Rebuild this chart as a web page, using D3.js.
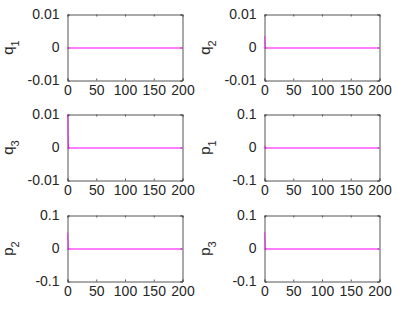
<!DOCTYPE html>
<meta charset="utf-8">
<script src="https://d3js.org/d3.v7.min.js"></script>
<style>
  body { margin: 0; background: #fff; }
  text { font-family: "Liberation Sans", Arial, sans-serif; fill: #262626; }
</style>
<div id="my_dataviz"></div>
<script>

// time samples and series values
var time = [0, 1, 2, 200];
var q1 = [0, 0, 0, 0];
var q2 = [0.0036, 0.0003, 0, 0];
var q3 = [0.012, 0.001, 0, 0];
var p1 = [0.007, 0.0005, 0, 0];
var p2 = [0.05, 0.003, 0, 0];
var p3 = [0.052, 0.003, 0, 0];

var xTicks = [0, 50, 100, 150, 200];
var qTicks = [-0.01, 0, 0.01];
var pTicks = [-0.1, 0, 0.1];

var names = [["q", "1"], ["q", "2"], ["q", "3"], ["p", "1"], ["p", "2"], ["p", "3"]];
var series = [q1, q2, q3, p1, p2, p3];
var yTickSets = [qTicks, qTicks, qTicks, pTicks, pTicks, pTicks];

var W = 405, H = 311;
var colX = [67.5, 264.5];
var rowY = [14.5, 114.5, 215.5];
var pw = 115, ph = 66;

var svg = d3.select("#my_dataviz")
  .append("svg")
    .attr("width", W)
    .attr("height", H);

series.forEach(function(vals, i) {
  var ticks = yTickSets[i];
  var g = svg.append("g")
    .attr("transform", "translate(" + colX[i % 2] + "," + rowY[Math.floor(i / 2)] + ")");

  var x = d3.scaleLinear().domain([0, 200]).range([0, pw]);
  var y = d3.scaleLinear().domain([ticks[0], ticks[2]]).range([ph, 0]);

  g.append("clipPath").attr("id", "clip" + i)
    .append("rect").attr("y", -0.5).attr("width", pw).attr("height", ph);

  // axes with inward ticks
  var fmt = function(d) { return d === 0 ? "0" : String(d); };
  var bottom = g.append("g").attr("transform", "translate(0," + ph + ")")
    .call(d3.axisBottom(x).tickValues(xTicks).tickSize(-2).tickPadding(5).tickFormat(fmt));
  var top = g.append("g")
    .call(d3.axisTop(x).tickValues(xTicks).tickSize(-2).tickFormat(""));
  var left = g.append("g")
    .call(d3.axisLeft(y).tickValues(ticks).tickSize(-2).tickPadding(8).tickFormat(fmt));
  var right = g.append("g").attr("transform", "translate(" + pw + ",0)")
    .call(d3.axisRight(y).tickValues(ticks).tickSize(-2).tickFormat(""));

  [bottom, top, left, right].forEach(function(a) {
    a.select(".domain").attr("stroke", "#555");
    a.selectAll(".tick line").attr("stroke", "#555");
    a.selectAll("text").style("font-size", "14px").attr("fill", "#262626");
  });

  // the curve, on top of the axes (half-pixel shift so it renders soft like the original)
  var line = d3.line()
    .x(function(d, k) { return x(time[k]); })
    .y(function(d) { return y(d); });
  g.append("g").attr("transform", "translate(0,0.5)")
    .append("path")
    .datum(vals)
    .attr("clip-path", "url(#clip" + i + ")")
    .attr("d", line)
    .attr("fill", "none")
    .attr("stroke", "#ff00ff")
    .attr("stroke-width", 1.2);

  // y label with subscript
  var lab = g.append("text")
    .attr("transform", "translate(" + (-55) + "," + (ph / 2) + ") rotate(-90)")
    .attr("text-anchor", "middle")
    .style("font-size", "15px");
  lab.append("tspan").text(names[i][0]);
  lab.append("tspan").attr("baseline-shift", "sub").style("font-size", "11px").text(names[i][1]);
});

</script>
